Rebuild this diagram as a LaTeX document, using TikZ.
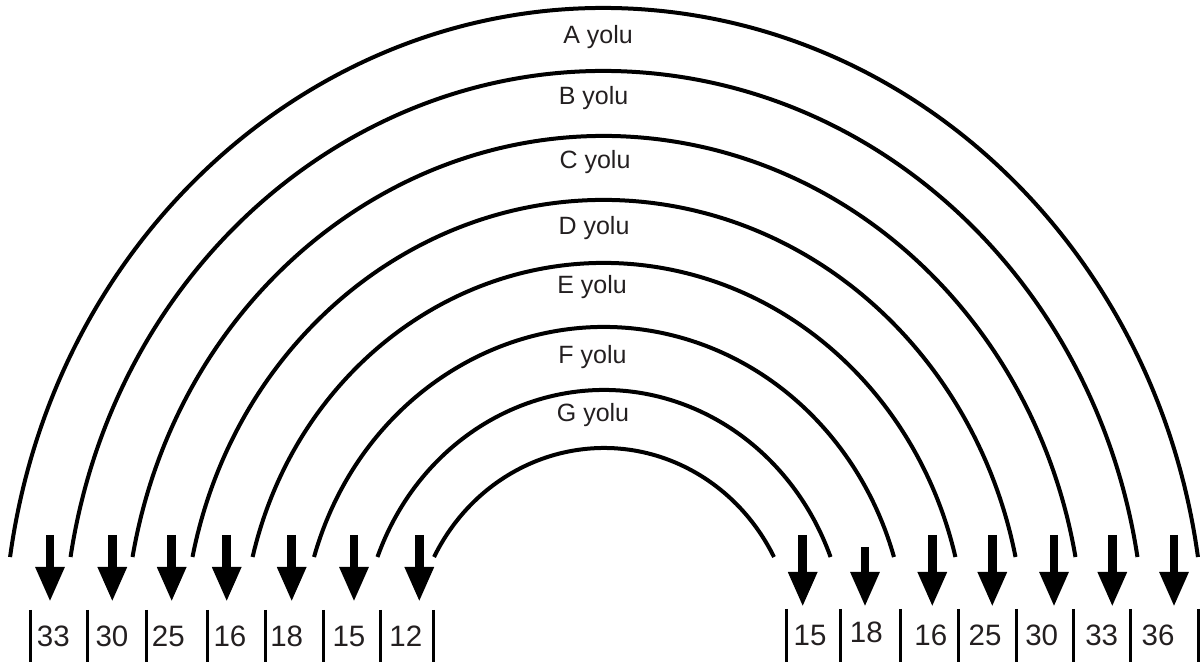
\documentclass[tikz,border=0pt]{standalone}
\usepackage{fontspec}
\setmainfont{Liberation Sans}
\usetikzlibrary{arrows.meta}
\definecolor{txt}{RGB}{35,31,32}
\begin{document}
\begin{tikzpicture}[x=1pt,y=1pt,
  arcline/.style={line width=4pt},
  sepline/.style={line width=3pt},
  downarrow/.style={line width=8.5pt,-{Triangle[width=27pt,length=35pt]}},
  roadlbl/.style={anchor=base,inner sep=0pt,text=txt,font=\fontsize{25}{30}\selectfont},
  numlbl/.style={anchor=base,inner sep=0pt,text=txt,font=\fontsize{29.5}{34}\selectfont}]
\useasboundingbox (0,0) rectangle (1202,666);
\coordinate (ctr) at (604,16);
% arcs
\foreach \rx/\ry in {600.3/642,540.5/579,479.4/514,420.6/450,362/387,302.8/323,242.6/260,191.5/202}{
  \pgfmathsetmacro\tz{asin(93/\ry)}
  \draw[arcline] ([shift={(180-\tz:\rx pt and \ry pt)}]ctr) arc[start angle=180-\tz, end angle=\tz, x radius=\rx pt, y radius=\ry pt];
}
% road labels
\node[roadlbl] (la) at (598,622.7) {A yolu};
\node[roadlbl] (lb) at (593.5,561) {B yolu};
\node[roadlbl] (lc) at (595,497.7) {C yolu};
\node[roadlbl] (ld) at (594,431) {D yolu};
\node[roadlbl] (le) at (592,372.7) {E yolu};
\node[roadlbl] (lf) at (592.5,302) {F yolu};
\node[roadlbl] (lg) at (593,244.3) {G yolu};
% left arrows
\foreach \x [count=\i] in {50,112.3,171.7,226.7,291.7,354,419.3}{
  \coordinate (lt\i) at (\x,131);
  \coordinate (lp\i) at (\x,64);
  \draw[downarrow] (lt\i) -- (lp\i);
}
% right arrows
\foreach \x/\t [count=\i] in {802.7/131,865/119,932.3/131,992.3/131,1054/131,1112.3/131,1174/131}{
  \coordinate (rt\i) at (\x,\t);
  \coordinate (rp\i) at (\x,59);
  \draw[downarrow] (rt\i) -- (rp\i);
}
% separators
\foreach \x [count=\i] in {30.7,87.7,146.7,207.3,265,323.3,380,433.3}{
  \coordinate (ls\i) at (\x,56);
  \coordinate (lb\i) at (\x,4);
  \draw[sepline] (ls\i) -- (lb\i);
}
\foreach \x [count=\i] in {786,840,900,958.3,1016.7,1073.3,1130,1198.3}{
  \coordinate (rs\i) at (\x,57);
  \coordinate (rb\i) at (\x,4);
  \draw[sepline] (rs\i) -- (rb\i);
}
% numbers
\foreach \x/\n [count=\i] in {53.3/33,112/30,168.3/25,230/16,286.7/18,349/15,405.8/12}{
  \node[numlbl] (ln\i) at (\x,19.5) {\n};
}
\foreach \x/\n/\y [count=\i] in {810/15/20,866.3/18/23.3,930.8/16/20,985/25/20,1041.7/30/20,1101.7/33/20,1158/36/20}{
  \node[numlbl] (rn\i) at (\x,\y) {\n};
}
\end{tikzpicture}
\end{document}
